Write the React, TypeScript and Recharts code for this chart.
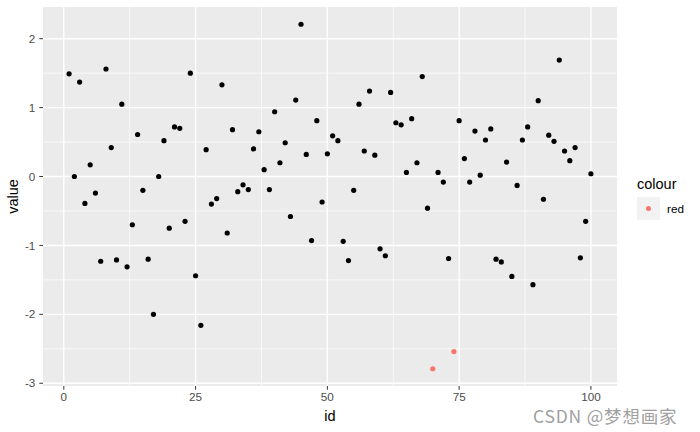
import { ScatterChart, Scatter, XAxis, YAxis, CartesianGrid, Legend } from 'recharts';

// values for id 1..100
const values = [
  1.49, 0.0, 1.37, -0.39, 0.17, -0.24, -1.23, 1.56, 0.42, -1.21,
  1.05, -1.31, -0.7, 0.61, -0.2, -1.2, -2.0, 0.0, 0.52, -0.75,
  0.72, 0.7, -0.65, 1.5, -1.44, -2.16, 0.39, -0.4, -0.32, 1.33,
  -0.82, 0.68, -0.22, -0.12, -0.19, 0.4, 0.65, 0.1, -0.19, 0.94,
  0.2, 0.49, -0.58, 1.11, 2.21, 0.32, -0.93, 0.81, -0.37, 0.33,
  0.59, 0.52, -0.94, -1.22, -0.2, 1.05, 0.37, 1.24, 0.31, -1.05,
  -1.15, 1.22, 0.78, 0.75, 0.06, 0.84, 0.2, 1.45, -0.46, -2.79,
  0.06, -0.08, -1.19, -2.54, 0.81, 0.26, -0.08, 0.66, 0.02, 0.53,
  0.69, -1.2, -1.24, 0.21, -1.45, -0.13, 0.53, 0.72, -1.57, 1.1,
  -0.33, 0.6, 0.51, 1.69, 0.37, 0.23, 0.42, -1.18, -0.65, 0.04,
];
const redIds = [70, 74];

const xTicks = [0, 25, 50, 75, 100];
const yTicks = [-3, -2, -1, 0, 1, 2];
const xMinor = [12.5, 37.5, 62.5, 87.5];
const yMinor = [-2.5, -1.5, -0.5, 0.5, 1.5];

const points = values.map((v, i) => ({ id: i + 1, value: v }));
const blackPoints = points.filter(p => !redIds.includes(p.id));
const redPoints = points.filter(p => redIds.includes(p.id));

const font = '"Liberation Sans", Arial, sans-serif';
const RED = '#F8766D';

const dot = (fill: string) => (props: any) => (
  <circle cx={props.cx} cy={props.cy} r={2.6} fill={fill} />
);

function ColourLegend(props: any) {
  const item = (props.payload || []).find((p: any) => p.value === 'red');
  return (
    <div style={{ fontFamily: font, color: '#000' }}>
      <div style={{ fontSize: 14.5, lineHeight: '18px' }}>colour</div>
      <div style={{ display: 'flex', alignItems: 'center', marginTop: 4 }}>
        <div style={{ width: 23, height: 23, background: '#F2F2F2', display: 'flex', alignItems: 'center', justifyContent: 'center' }}>
          <div style={{ width: 5.4, height: 5.4, borderRadius: '50%', background: RED }} />
        </div>
        <span style={{ fontSize: 11.7, marginLeft: 7 }}>{item ? item.value : 'red'}</span>
      </div>
    </div>
  );
}

export default function App() {
  return (
    <div style={{ position: 'relative', width: 700, height: 432, background: '#fff' }}>
      <style>{'body{margin:0}'}</style>
      <ScatterChart width={700} height={432} margin={{ top: 7, right: 83, bottom: 0, left: 0 }}>
        <CartesianGrid
          fill="#EBEBEB"
          stroke="#FFFFFF"
          strokeWidth={0.7}
          horizontalValues={yMinor}
          verticalValues={xMinor}
        />
        <CartesianGrid
          stroke="#FFFFFF"
          strokeWidth={1.4}
          horizontalValues={yTicks}
          verticalValues={xTicks}
        />
        <XAxis
          type="number"
          dataKey="id"
          domain={[-3.95, 104.95]}
          ticks={xTicks}
          allowDataOverflow
          height={46}
          axisLine={false}
          tickLine={{ stroke: '#333333' }}
          tickSize={3.7}
          tickMargin={3}
          tick={{ fill: '#4D4D4D', fontSize: 11.7, fontFamily: font }}
          label={{ value: 'id', position: 'insideBottom', offset: 11, fill: '#000', fontSize: 14.5, fontFamily: font }}
        />
        <YAxis
          type="number"
          dataKey="value"
          domain={[-3.04, 2.46]}
          ticks={yTicks}
          allowDataOverflow
          width={43}
          axisLine={false}
          tickLine={{ stroke: '#333333' }}
          tickSize={3.7}
          tickMargin={4}
          tick={{ fill: '#4D4D4D', fontSize: 11.7, fontFamily: font }}
          label={{ value: 'value', angle: -90, position: 'insideLeft', offset: 13, textAnchor: 'middle', fill: '#000', fontSize: 14.5, fontFamily: font }}
        />
        <Scatter name="black" data={blackPoints} fill="#000" shape={dot('#000')} isAnimationActive={false} legendType="none" />
        <Scatter name="red" data={redPoints} fill={RED} shape={dot(RED)} isAnimationActive={false} />
        <Legend
          layout="vertical"
          align="center"
          verticalAlign="middle"
          content={ColourLegend}
          wrapperStyle={{ left: 637, top: 175, width: 60 }}
        />
      </ScatterChart>
      <div style={{ position: 'absolute', left: 533, top: 408, lineHeight: '16px', fontFamily: '"Noto Sans CJK SC", sans-serif', fontSize: 17.5, color: '#a0a0a0', whiteSpace: 'nowrap', letterSpacing: 0.8 }}>
        CSDN @梦想画家
      </div>
    </div>
  );
}
